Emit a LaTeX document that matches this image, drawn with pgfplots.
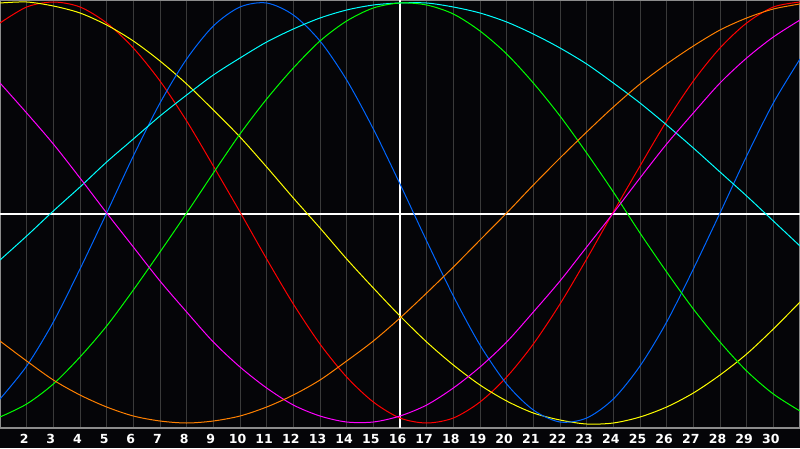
\documentclass[border=0pt]{standalone}
\usepackage{fontspec}
\setmainfont{DejaVu Sans}
\usepackage{pgfplots}
\pgfplotsset{compat=1.18}
\definecolor{bg}{RGB}{5,5,8}
\definecolor{gridc}{RGB}{58,58,58}
\definecolor{frame}{RGB}{140,140,140}
\definecolor{cred}{RGB}{255,0,0}
\definecolor{cyel}{RGB}{255,255,0}
\definecolor{cblue}{RGB}{0,102,255}
\definecolor{ccyan}{RGB}{0,255,255}
\definecolor{cgreen}{RGB}{0,255,0}
\definecolor{cmag}{RGB}{255,0,255}
\definecolor{corange}{RGB}{255,128,0}

\begin{document}
\begin{tikzpicture}
\fill[bg] (0,0) rectangle (800pt,448pt);
\useasboundingbox (0,0) rectangle (800pt,448pt);
\begin{axis}[at={(0pt,20pt)}, anchor=south west, scale only axis,
  width=800pt, height=428pt,
  xmin=1, xmax=31, ymin=-214, ymax=214,
  xtick={2,...,30}, ytick=\empty,
  major tick length=0pt,
  xmajorgrids, grid style={gridc, line width=1pt},
  axis line style={frame, line width=1.5pt},
  xticklabel={\fontsize{12.5}{14}\selectfont\bfseries\pgfmathprintnumber[assume math mode=true]{\tick}},
  xticklabel style={text=white, anchor=base, yshift=-15pt, xshift=-2.5pt},
  every axis plot/.append style={line width=1pt}]
\draw[white, line width=1.2pt] (axis cs:16,-214) -- (axis cs:16,214);
\draw[white, line width=1.2pt] (axis cs:1,0) -- (axis cs:31,0);
% red
\addplot[cred, smooth] coordinates {(1,191) (2,207) (3,212) (4,207) (5,191) (6,166)
 (7,133) (8,93) (9,48) (10,2) (11,-45) (12,-90) (13,-130) (14,-163) (15,-188)
 (16,-204) (17,-209) (18,-204) (19,-188) (20,-163) (21,-130) (22,-90) (23,-45)
 (24,2) (25,48) (26,93) (27,133) (28,166) (29,191) (30,207) (31,212)};
% yellow
\addplot[cyel, smooth] coordinates {(1,211) (2,212) (3,208) (4,201) (5,189) (6,173)
 (7,153) (8,130) (9,104) (10,77) (11,47) (12,16) (13,-14) (14,-45) (15,-74)
 (16,-102) (17,-128) (18,-151) (19,-171) (20,-187) (21,-199) (22,-206) (23,-210)
 (24,-209) (25,-203) (26,-193) (27,-179) (28,-161) (29,-140) (30,-115) (31,-88)};
% blue
\addplot[cblue, smooth] coordinates {(1,-185) (2,-152) (3,-108) (4,-55) (5,1) (6,58)
 (7,111) (8,155) (9,188) (10,207) (11,211) (12,199) (13,173) (14,134) (15,85)
 (16,30) (17,-27) (18,-82) (19,-131) (20,-170) (21,-196) (22,-208) (23,-204)
 (24,-185) (25,-152) (26,-108) (27,-55) (28,1) (29,58) (30,111) (31,155)};
% cyan
\addplot[ccyan, smooth] coordinates {(1,-46) (2,-22) (3,3) (4,27) (5,52) (6,75)
 (7,98) (8,119) (9,139) (10,156) (11,172) (12,185) (13,196) (14,204) (15,209)
 (16,211) (17,211) (18,207) (19,201) (20,192) (21,180) (22,166) (23,150) (24,131)
 (25,111) (26,89) (27,66) (28,42) (29,18) (30,-7) (31,-32)};
% green
\addplot[cgreen, smooth] coordinates {(1,-203) (2,-190) (3,-170) (4,-143) (5,-112)
 (6,-76) (7,-38) (8,1) (9,41) (10,80) (11,115) (12,146) (13,173) (14,193) (15,206)
 (16,211) (17,209) (18,200) (19,183) (20,160) (21,131) (22,98) (23,61) (24,22)
 (25,-19) (26,-58) (27,-95) (28,-128) (29,-157) (30,-180) (31,-197)};
% magenta
\addplot[cmag, smooth] coordinates {(1,131) (2,101) (3,70) (4,36) (5,1) (6,-33)
 (7,-67) (8,-98) (9,-128) (10,-153) (11,-174) (12,-191) (13,-202) (14,-208)
 (15,-208) (16,-202) (17,-191) (18,-174) (19,-153) (20,-128) (21,-98) (22,-67)
 (23,-33) (24,1) (25,36) (26,70) (27,101) (28,131) (29,156) (30,177) (31,194)};
% orange
\addplot[corange, smooth] coordinates {(1,-127) (2,-147) (3,-166) (4,-181) (5,-193)
 (6,-202) (7,-207) (8,-209) (9,-207) (10,-202) (11,-193) (12,-181) (13,-166)
 (14,-147) (15,-127) (16,-104) (17,-79) (18,-53) (19,-26) (20,1) (21,29) (22,56)
 (23,82) (24,107) (25,130) (26,150) (27,168) (28,184) (29,196) (30,205) (31,210)};
\end{axis}
\end{tikzpicture}
\end{document}
